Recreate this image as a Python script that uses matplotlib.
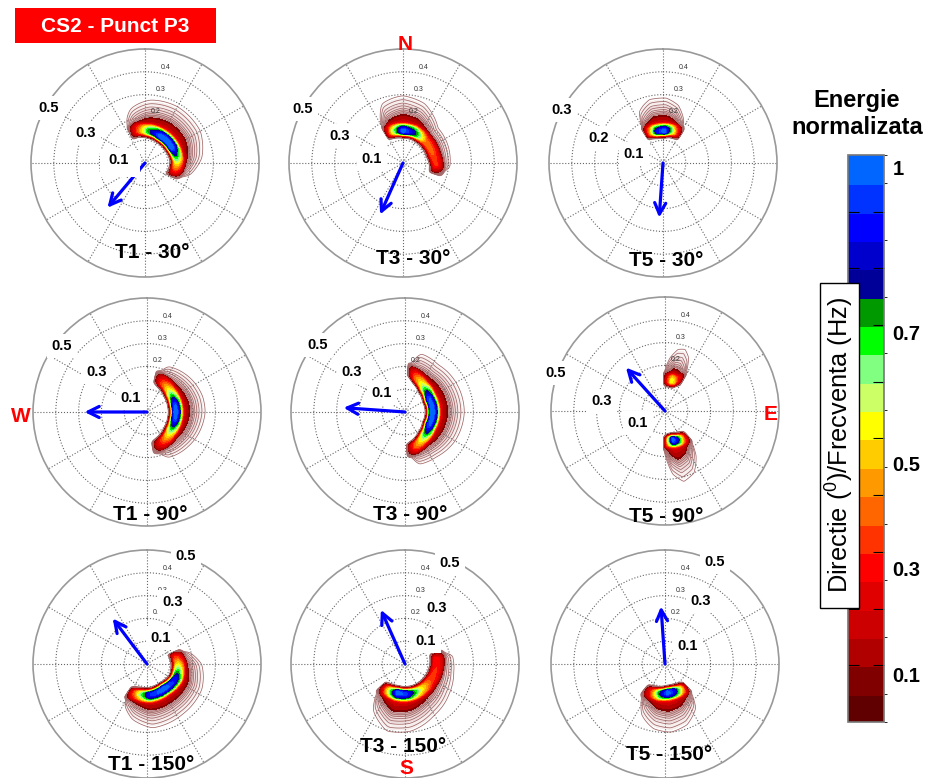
"""
Directional wave spectra, CS2 point P3, with normalised energy colour bar.
"""
import numpy as np
import matplotlib
matplotlib.use("Agg")
import matplotlib.pyplot as plt
from matplotlib.colors import ListedColormap, BoundaryNorm
from matplotlib.cm import ScalarMappable
from matplotlib.patches import Rectangle

plt.rcParams['font.family'] = ['Liberation Sans', 'DejaVu Sans']
plt.rcParams['mathtext.fontset'] = 'custom'
plt.rcParams['mathtext.rm'] = 'Liberation Sans'

W, H = 929, 778

# spectrum crests: direction (deg from N), peak freq, outermost contour freq, relative energy
t1_30_dir = [-28, -15, 5, 30, 60, 85, 105, 118]
t1_30_peak = [.145, .15, .145, .14, .14, .145, .14, .13]
t1_30_outer = [.26, .285, .29, .285, .28, .265, .23, .17]
t1_30_amp = [0, .3, .7, 1, 1, .6, .3, 0]

t3_30_dir = [-32, -20, 0, 20, 45, 75, 95, 110]
t3_30_peak = [.15, .15, .145, .145, .14, .14, .15, .15]
t3_30_outer = [.24, .3, .295, .285, .24, .235, .23, .19]
t3_30_amp = [0, .5, 1, .8, .4, .35, .3, 0]

t5_30_dir = [-33, -25, -12, 3, 15, 25, 33]
t5_30_peak = [.15, .15, .145, .145, .15, .15, .15]
t5_30_outer = [.2, .28, .29, .285, .275, .24, .18]
t5_30_amp = [0, .35, .85, 1, .65, .3, 0]

t1_90_dir = [12, 25, 50, 75, 90, 105, 130, 155, 172]
t1_90_peak = [.16, .15, .135, .13, .13, .13, .135, .15, .16]
t1_90_outer = [.19, .25, .255, .255, .255, .25, .25, .25, .19]
t1_90_amp = [0, .3, .6, .95, 1, .95, .6, .3, 0]

t3_90_dir = [3, 15, 35, 60, 90, 120, 145, 165, 178]
t3_90_peak = [.19, .165, .14, .125, .125, .125, .14, .16, .17]
t3_90_outer = [.23, .3, .27, .26, .26, .255, .255, .265, .2]
t3_90_amp = [0, .35, .6, .95, 1, .95, .6, .35, 0]

t5_90a_dir = [-3, 5, 12, 18, 24, 31]
t5_90a_peak = [.14, .14, .14, .14, .15, .16]
t5_90a_outer = [.2, .27, .3, .32, .31, .24]
t5_90a_amp = [0, .3, .55, .45, .25, 0]

t5_90b_dir = [137, 145, 155, 165, 173, 183]
t5_90b_peak = [.15, .145, .14, .135, .135, .14]
t5_90b_outer = [.2, .27, .31, .32, .3, .2]
t5_90b_amp = [0, .35, .8, 1, .6, 0]

t1_150_dir = [65, 75, 90, 115, 145, 175, 195, 208, 215]
t1_150_peak = [.13, .135, .14, .145, .135, .14, .14, .145, .15]
t1_150_outer = [.16, .22, .26, .27, .27, .285, .27, .24, .18]
t1_150_amp = [0, .3, .5, .85, 1, .9, .55, .25, 0]

t3_150_dir = [68, 80, 100, 125, 150, 175, 195, 215, 228]
t3_150_peak = [.145, .145, .14, .135, .135, .135, .135, .14, .145]
t3_150_outer = [.19, .24, .25, .27, .28, .3, .305, .27, .19]
t3_150_amp = [0, .3, .3, .35, .55, .9, 1, .45, 0]

t5_150_dir = [135, 145, 160, 175, 190, 205, 220]
t5_150_peak = [.14, .135, .13, .13, .135, .14, .145]
t5_150_outer = [.19, .26, .29, .3, .3, .28, .19]
t5_150_amp = [0, .45, .85, 1, .75, .35, 0]

# mean direction arrows: direction (deg), length (Hz)
arrow_dirs = [220, 204, 184, 270, 274, 318, 323, 336, 356]
arrow_lens = [.256, .247, .24, .274, .27, .256, .25, .26, .253]

titles = ['T1 - 30°', 'T3 - 30°', 'T5 - 30°', 'T1 - 90°', 'T3 - 90°', 'T5 - 90°',
          'T1 - 150°', 'T3 - 150°', 'T5 - 150°']
ring_labels = [['0.5', '0.3', '0.1'], ['0.5', '0.3', '0.1'], ['0.3', '0.2', '0.1'],
               ['0.5', '0.3', '0.1'], ['0.5', '0.3', '0.1'], ['0.5', '0.3', '0.1'],
               ['0.5', '0.3', '0.1'], ['0.5', '0.3', '0.1'], ['0.5', '0.3', '0.1']]
small_ticks = ['0.2', '0.3', '0.4']

bar_colors = ['#600000', '#800000', '#b00000', '#cc0000', '#e00000', '#ff0000', '#ff3300',
              '#ff6600', '#ff9900', '#ffcc00', '#ffff00', '#ccff66', '#80ff80', '#00ff00',
              '#009900', '#000099', '#0000cc', '#0000ff', '#0033ff', '#0066ff']
bar_labels = ['1', '0.7', '0.5', '0.3', '0.1']

# layout, in reference pixels
centers = [(145, 163), (403, 163), (663, 163),
           (147, 412), (405, 412), (665, 411),
           (147, 664), (405, 664), (665, 664)]
title_xy = [(152, 253), (413, 258), (666, 260), (150, 515), (410, 515), (666, 516),
            (151, 764), (403, 747), (669, 755)]
label_xy = [[(49, 108), (86, 133), (119, 160)], [(303, 109), (340, 136), (372, 159)],
            [(562, 110), (599, 138), (634, 154)], [(62, 346), (97, 372), (131, 398)],
            [(318, 345), (352, 372), (382, 393)], [(556, 373), (602, 401), (638, 423)],
            [(186, 556), (173, 602), (161, 638)], [(450, 563), (437, 608), (426, 641)],
            [(715, 562), (701, 601), (688, 646)]]
RADIUS = 114
BAR_LABEL_POS = [.975, .684, .453, .268, .081]
# outer contour lines, as fraction of the way from crest to outermost contour
LINE_STEPS = [.42, .46, .5, .54, .59, .64, .71, .79, .89, 1.0]


def fx(x):
    return x / W


def fy(y):
    return 1 - y / H


def smooth(values, n=9):
    pad = np.pad(values, n, mode='edge')
    kernel = np.hanning(2 * n + 1)
    return np.convolve(pad, kernel / kernel.sum(), mode='same')[n:-n]


def draw_spectrum(ax, dirs, peak, outer, amp, norm, cmap):
    th = np.linspace(dirs[0], dirs[-1], 360)
    r = np.linspace(0.002, 0.45, 500)
    peak_s = smooth(np.interp(th, dirs, peak))
    outer_s = smooth(np.interp(th, dirs, outer))
    amp_s = np.clip(smooth(np.interp(th, dirs, amp)), 0, 1)
    amp_s = amp_s * (np.abs(th - th[0]) > 0.5) * (np.abs(th - th[-1]) > 0.5)

    R, _ = np.meshgrid(r, th)
    d = R - peak_s[:, None]
    s = np.clip(d / (outer_s - peak_s)[:, None], 0, None)
    E = np.where(d < 0,
                 np.exp(-(d / 0.025) ** 4),
                 0.5 * np.exp(-(d / 0.026) ** 4) + 0.5 * np.exp(-4.0 * s))
    E = E * amp_s[:, None]

    th_rad = np.radians(th)
    line_levels = sorted(0.5 * np.exp(-4.0 * np.array(LINE_STEPS)))
    # faint shading below the densest contour lines
    ax.contourf(th_rad, r, E.T, levels=[.012, .025, .05, .1],
                colors=['#f7eeee', '#eedcdc', '#dcb8b8'], zorder=1.2)
    ax.contour(th_rad, r, E.T, levels=line_levels, colors='#a06464', linewidths=0.55, zorder=2)
    ax.contourf(th_rad, r, E.T, levels=norm.boundaries, cmap=cmap, norm=norm, zorder=3)


bar_levels = np.linspace(0, 1, 21)
cmap = ListedColormap(bar_colors)
norm = BoundaryNorm(bar_levels, cmap.N)
field_levels = np.r_[0.08, bar_levels[2:]]
field_colors = ListedColormap(bar_colors[1:])
field_norm = BoundaryNorm(field_levels, field_colors.N)

panels = [
    [(t1_30_dir, t1_30_peak, t1_30_outer, t1_30_amp)],
    [(t3_30_dir, t3_30_peak, t3_30_outer, t3_30_amp)],
    [(t5_30_dir, t5_30_peak, t5_30_outer, t5_30_amp)],
    [(t1_90_dir, t1_90_peak, t1_90_outer, t1_90_amp)],
    [(t3_90_dir, t3_90_peak, t3_90_outer, t3_90_amp)],
    [(t5_90a_dir, t5_90a_peak, t5_90a_outer, t5_90a_amp),
     (t5_90b_dir, t5_90b_peak, t5_90b_outer, t5_90b_amp)],
    [(t1_150_dir, t1_150_peak, t1_150_outer, t1_150_amp)],
    [(t3_150_dir, t3_150_peak, t3_150_outer, t3_150_amp)],
    [(t5_150_dir, t5_150_peak, t5_150_outer, t5_150_amp)],
]

fig = plt.figure(figsize=(W / 100, H / 100), dpi=100, facecolor='white')

for i, blobs in enumerate(panels):
    cx, cy = centers[i]
    ax = fig.add_axes([fx(cx - RADIUS), fy(cy + RADIUS), 2 * RADIUS / W, 2 * RADIUS / H],
                      projection='polar')
    ax.set_theta_zero_location('N')
    ax.set_theta_direction(-1)
    for dirs, peak, outer, amp in blobs:
        draw_spectrum(ax, dirs, peak, outer, amp, field_norm, field_colors)
    ax.set_thetalim(0, 2 * np.pi)
    ax.set_rlim(0, 0.5)
    ax.set_rticks([.1, .2, .3, .4])
    ax.set_yticklabels([])
    ax.set_xticks(np.radians(np.arange(0, 360, 30)))
    ax.set_xticklabels([])
    ax.grid(True, color='#666666', linestyle=':', linewidth=0.8)
    ax.spines['polar'].set_color('#999999')
    ax.spines['polar'].set_linewidth(1.2)
    for tick, rv in zip(small_ticks, [.232, .33, .43]):
        ax.text(np.radians(12), rv, tick, fontsize=5, color='#333333',
                ha='center', va='center', zorder=5)
    ax.annotate('', xy=(np.radians(arrow_dirs[i]), arrow_lens[i]), xytext=(0, 0),
                arrowprops=dict(arrowstyle='->', color='#0000ff', lw=2.3,
                                mutation_scale=20, shrinkA=0, shrinkB=0), zorder=6)
    for text, (x, y) in zip(ring_labels[i], label_xy[i]):
        fig.text(fx(x), fy(y), text, fontsize=10.5, fontweight='bold', ha='center', va='center',
                 bbox=dict(facecolor='white', edgecolor='none', pad=3.5))
    tx, ty = title_xy[i]
    fig.text(fx(tx), fy(ty), titles[i], fontsize=15, fontweight='bold', ha='center', va='center')

# part of the first arrow sits under the white box of its label
fig.add_artist(Rectangle((fx(100), fy(177)), 40 / W, 27 / H, transform=fig.transFigure,
                         facecolor='white', edgecolor='none', zorder=2))

# header and compass letters
fig.add_artist(Rectangle((fx(15), fy(43)), 201 / W, 35 / H, transform=fig.transFigure,
                         facecolor='#ff0000', edgecolor='none'))
fig.text(fx(115), fy(27), 'CS2 - Punct P3', color='white', fontsize=15, fontweight='bold',
         ha='center', va='center')
for letter, x, y in [('N', 405, 44), ('W', 21, 417), ('E', 771, 415), ('S', 406, 769)]:
    fig.text(fx(x), fy(y), letter, color='#ff0000', fontsize=15, fontweight='bold',
             ha='center', va='center')

# colour bar
cax = fig.add_axes([fx(848), fy(722), 36 / W, 567 / H])
cb = fig.colorbar(ScalarMappable(norm=norm, cmap=cmap), cax=cax, spacing='proportional')
cb.solids.set_edgecolor('face')
cb.outline.set_edgecolor('#777777')
cb.outline.set_linewidth(1.2)
cb.set_ticks(np.arange(.1, .95, .1))
cb.set_ticklabels([])
cax.tick_params(axis='y', direction='in', length=8, width=0.8, color='black',
                left=True, right=True)
for text, pos in zip(bar_labels, BAR_LABEL_POS):
    cax.text(1.23, pos, text, fontsize=14.5, fontweight='bold', va='center', ha='left',
             transform=cax.transAxes)

fig.text(fx(857), fy(100), 'Energie', fontsize=17, fontweight='bold', ha='center', va='center')
fig.text(fx(857), fy(127), 'normalizata', fontsize=17, fontweight='bold', ha='center', va='center')

fig.add_artist(Rectangle((fx(820), fy(608)), 39 / W, 325 / H, transform=fig.transFigure,
                         facecolor='white', edgecolor='black', linewidth=1.0, zorder=4))
fig.text(fx(840), fy(445), 'Directie ($\\mathrm{^0}$)/Frecventa (Hz)', fontsize=18.3, rotation=90,
         ha='center', va='center', zorder=5)

fig.savefig('out.png', dpi=100)
